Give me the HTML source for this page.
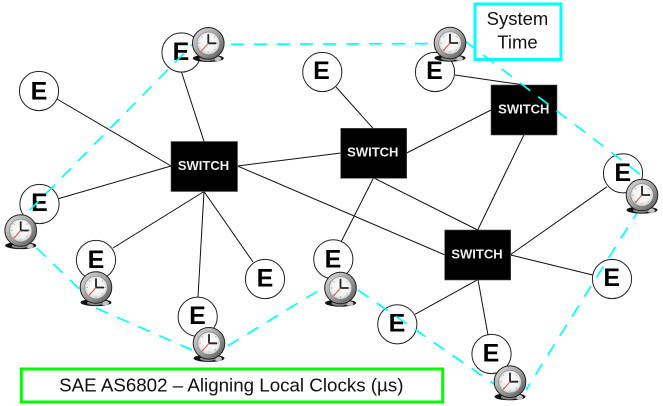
<!DOCTYPE html>
<html>
<head>
<meta charset="utf-8">
<style>
html,body{margin:0;padding:0;background:#fff;width:663px;height:406px;overflow:hidden}
svg{display:block}
text{font-family:"Liberation Sans",sans-serif}
.e{font-size:25px;font-weight:bold;text-anchor:middle;fill:#000}
.s{font-size:13px;font-weight:bold;text-anchor:middle;fill:#eee}
.n{fill:#fff;stroke:#222;stroke-width:1}
.l{stroke:#111;stroke-width:1;fill:none}
.c{stroke:#00ffff;stroke-width:1.7;fill:none;stroke-dasharray:13 10}
</style>
</head>
<body>
<svg width="663" height="406" viewBox="0 0 663 406" xmlns="http://www.w3.org/2000/svg">
<defs>
<radialGradient id="face" cx="50%" cy="45%" r="55%"><stop offset="0" stop-color="#fff"/><stop offset="0.7" stop-color="#f1f1f1"/><stop offset="1" stop-color="#cfcfcf"/></radialGradient>
<linearGradient id="rim" x1="0" y1="0" x2="1" y2="1"><stop offset="0" stop-color="#e0e0e0"/><stop offset="0.5" stop-color="#a0a0a0"/><stop offset="1" stop-color="#555"/></linearGradient>
<g id="clock">
<ellipse cx="0" cy="15" rx="15.5" ry="3.6" fill="#111"/>
<ellipse cx="9" cy="15.5" rx="4" ry="2.3" fill="#c4c4c4"/>
<ellipse cx="-1" cy="15.5" rx="8" ry="2.3" fill="#888"/>
<circle cx="0" cy="0" r="15.8" fill="url(#rim)" stroke="#222" stroke-width="1"/>
<circle cx="0" cy="0" r="11.3" fill="url(#face)" stroke="#888" stroke-width=".7"/>
<path d="M0-10V-8M0 8V10M-10 0H-8M8 0H10M-7-7L-5.8-5.8M7-7L5.8-5.8M-7 7L-5.8 5.8M7 7L5.8 5.8" stroke="#bbb" stroke-width="1"/>
<path d="M0 0V-9M0 0H8" stroke="#222" stroke-width="1.8" fill="none"/>
<path d="M0 0L-7 8" stroke="#e05050" stroke-width="1"/>
</g>
</defs>

<g class="l">
<line x1="181" y1="70.5" x2="204" y2="141.5"/>
<line x1="57" y1="99" x2="171" y2="166"/>
<line x1="59" y1="198.5" x2="171" y2="166"/>
<line x1="113" y1="248" x2="204" y2="191.5"/>
<line x1="253" y1="262" x2="204" y2="191.5"/>
<line x1="198" y1="297" x2="204" y2="191.5"/>
<line x1="237.5" y1="166" x2="341" y2="153"/>
<line x1="237.5" y1="166" x2="445" y2="255"/>
<line x1="336" y1="87" x2="373" y2="128.3"/>
<line x1="341" y1="242" x2="373.5" y2="178"/>
<line x1="406.7" y1="153" x2="491" y2="110"/>
<line x1="374" y1="178" x2="477.7" y2="230"/>
<line x1="455" y1="75" x2="524" y2="85"/>
<line x1="524" y1="134.7" x2="477.7" y2="230"/>
<line x1="607" y1="186.7" x2="510.7" y2="254.5"/>
<line x1="592.7" y1="275" x2="510.7" y2="255"/>
<line x1="415" y1="314.3" x2="477.7" y2="279.7"/>
<line x1="488" y1="335" x2="478" y2="279.7"/>
</g>

<g fill="#000" stroke="#555" stroke-width=".6">
<rect x="171" y="141.5" width="66.5" height="50"/>
<rect x="340.7" y="128.3" width="66" height="50"/>
<rect x="491" y="85" width="66" height="50"/>
<rect x="444.7" y="230" width="66" height="50"/>
</g>
<text class="s" x="203.5" y="170">SWITCH</text>
<text class="s" x="372.8" y="156.7">SWITCH</text>
<text class="s" x="523.8" y="113.3">SWITCH</text>
<text class="s" x="477" y="258.3">SWITCH</text>

<g class="n">
<circle cx="181.5" cy="52.5" r="19.6"/>
<circle cx="39" cy="91" r="19.6"/>
<circle cx="39.5" cy="204" r="19.6"/>
<circle cx="96" cy="260" r="19.6"/>
<circle cx="265" cy="279" r="19.6"/>
<circle cx="197.7" cy="316.7" r="19.6"/>
<circle cx="333.3" cy="259.3" r="19.6"/>
<circle cx="322.3" cy="72" r="19.6"/>
<circle cx="435" cy="72" r="19.6"/>
<circle cx="623" cy="173.3" r="19.6"/>
<circle cx="612" cy="279" r="19.6"/>
<circle cx="397.3" cy="324.3" r="19.6"/>
<circle cx="491.5" cy="354" r="19.6"/>
</g>
<text class="e" x="181" y="60">E</text>
<text class="e" x="39" y="99.5">E</text>
<text class="e" x="39.5" y="211">E</text>
<text class="e" x="96" y="268">E</text>
<text class="e" x="265" y="286.5">E</text>
<text class="e" x="197.5" y="324">E</text>
<text class="e" x="333" y="267.5">E</text>
<text class="e" x="321.5" y="79">E</text>
<text class="e" x="434.5" y="79">E</text>
<text class="e" x="622.7" y="181">E</text>
<text class="e" x="611.7" y="286">E</text>
<text class="e" x="397" y="331.5">E</text>
<text class="e" x="491" y="361.5">E</text>

<rect x="475" y="4" width="86" height="55.5" fill="#fff" stroke="#00ffff" stroke-width="3"/>
<text x="517.5" y="25" font-size="18.5" text-anchor="middle" fill="#111">System</text>
<text x="517.5" y="48.3" font-size="18.5" text-anchor="middle" fill="#111">Time</text>

<g class="c">
<line x1="208" y1="44.5" x2="449" y2="43.5"/>
<line x1="465" y1="41" x2="645" y2="178"/>
<line x1="640" y1="208" x2="526" y2="390"/>
<line x1="339" y1="277" x2="510" y2="395"/>
<line x1="208" y1="358" x2="339" y2="278"/>
<line x1="96" y1="308" x2="208" y2="357"/>
<line x1="20" y1="232" x2="96" y2="305"/>
<line x1="200" y1="37" x2="20" y2="220"/>
</g>

<use href="#clock" x="208.3" y="43.3"/>
<use href="#clock" x="450" y="43"/>
<use href="#clock" x="20.7" y="230.5"/>
<use href="#clock" x="96" y="287.5"/>
<use href="#clock" x="209" y="343.3"/>
<use href="#clock" x="340.5" y="288"/>
<use href="#clock" x="510" y="381.7"/>
<use href="#clock" x="642" y="195"/>

<rect x="21.3" y="369" width="421.4" height="33" fill="#fff" stroke="#00ff00" stroke-width="3"/>
<text x="231.3" y="391.7" font-size="18.75" text-anchor="middle" fill="#111">SAE AS6802 – Aligning Local Clocks (µs)</text>
</svg>
</body>
</html>
